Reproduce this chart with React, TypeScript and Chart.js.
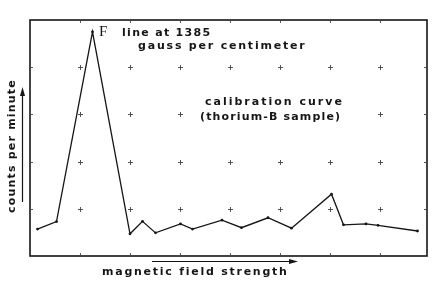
import React, { useEffect, useRef } from "react";
import { Chart, registerables } from "chart.js";

Chart.register(...registerables);

// magnetic field strength (grid units) and counts per minute (grid units)
const fieldStrength = [0.15, 0.53, 1.25, 2.0, 2.25, 2.51, 3.01, 3.25, 3.84, 4.23, 4.76, 5.23, 6.03, 6.27, 6.72, 6.96, 7.75];
const countsPerMinute = [0.57, 0.73, 4.75, 0.47, 0.735, 0.49, 0.68, 0.57, 0.76, 0.6, 0.81, 0.59, 1.31, 0.66, 0.68, 0.65, 0.53];
const xGridTicks = [1, 2, 3, 4, 5, 6, 7];
const yGridTicks = [1, 2, 3, 4];

const xTitle = "magnetic field strength";
const yTitle = "counts per minute";
const peakMark = "F";
const peakNote = ["line at 1385", "gauss per centimeter"];
const curveNote = ["calibration curve", "(thorium-B sample)"];

const INK = "#161616";
const HAND = "'DejaVu Sans', sans-serif";

function spaced(ctx: any, text: string, x: number, y: number, spacing: number) {
  ctx.letterSpacing = spacing + "px";
  ctx.fillText(text, x, y);
}

const sketchPlugin = {
  id: "sketch",
  beforeDatasetsDraw(chart: any) {
    const { ctx, chartArea: a, scales } = chart;
    const xs = scales.x;
    const ys = scales.y;
    ctx.save();
    // frame
    ctx.strokeStyle = INK;
    ctx.lineWidth = 1.6;
    ctx.strokeRect(a.left, a.top, a.right - a.left, a.bottom - a.top);
    // inward ticks and crosses
    ctx.lineWidth = 0.9;
    ctx.strokeStyle = "#444";
    for (const xv of xGridTicks) {
      const px = Math.round(xs.getPixelForValue(xv)) + 0.5;
      ctx.beginPath();
      ctx.moveTo(px, a.bottom);
      ctx.lineTo(px, a.bottom - 3);
      ctx.moveTo(px, a.top);
      ctx.lineTo(px, a.top + 3);
      ctx.stroke();
      for (const yv of yGridTicks) {
        const py = Math.round(ys.getPixelForValue(yv)) + 0.5;
        ctx.beginPath();
        ctx.moveTo(px - 2.5, py);
        ctx.lineTo(px + 2.5, py);
        ctx.moveTo(px, py - 2.5);
        ctx.lineTo(px, py + 2.5);
        ctx.stroke();
      }
    }
    for (const yv of yGridTicks) {
      const py = Math.round(ys.getPixelForValue(yv)) + 0.5;
      ctx.beginPath();
      ctx.moveTo(a.left, py);
      ctx.lineTo(a.left + 3, py);
      ctx.moveTo(a.right, py);
      ctx.lineTo(a.right - 3, py);
      ctx.stroke();
    }
    ctx.restore();
  },
  afterDraw(chart: any) {
    const { ctx } = chart;
    ctx.save();
    ctx.fillStyle = INK;
    ctx.strokeStyle = INK;
    ctx.textBaseline = "middle";
    // peak label
    ctx.font = "15px 'Liberation Serif', serif";
    ctx.textAlign = "left";
    ctx.letterSpacing = "0px";
    ctx.fillText(peakMark, 99, 32);
    ctx.font = "bold 11px " + HAND;
    spaced(ctx, peakNote[0], 122, 33, 1.3);
    spaced(ctx, peakNote[1], 138, 46, 1.8);
    // curve note (paper behind lettering)
    ctx.fillStyle = "#fff";
    ctx.fillRect(198, 94, 148, 30);
    ctx.fillStyle = INK;
    spaced(ctx, curveNote[0], 205, 102, 2.0);
    spaced(ctx, curveNote[1], 200, 117, 1.15);
    // x title
    spaced(ctx, xTitle, 102, 272, 1.75);
    // y title
    ctx.save();
    ctx.translate(12, 146);
    ctx.rotate(-Math.PI / 2);
    ctx.textAlign = "center";
    spaced(ctx, yTitle, 0, 0, 1.2);
    ctx.restore();
    ctx.letterSpacing = "0px";
    // arrows
    ctx.lineWidth = 1.2;
    ctx.beginPath();
    ctx.moveTo(152, 261.5);
    ctx.lineTo(292, 261.5);
    ctx.stroke();
    ctx.beginPath();
    ctx.moveTo(298, 261.5);
    ctx.lineTo(289, 259);
    ctx.lineTo(289, 264);
    ctx.closePath();
    ctx.fill();
    ctx.beginPath();
    ctx.moveTo(22.5, 202);
    ctx.lineTo(22.5, 94);
    ctx.stroke();
    ctx.beginPath();
    ctx.moveTo(22.5, 87);
    ctx.lineTo(20, 96);
    ctx.lineTo(25, 96);
    ctx.closePath();
    ctx.fill();
    ctx.restore();
  },
};

export default function App() {
  const ref = useRef<HTMLCanvasElement | null>(null);
  useEffect(() => {
    if (!ref.current) return;
    const chart = new Chart(ref.current, {
      type: "line",
      data: {
        datasets: [
          {
            data: fieldStrength.map((x, i) => ({ x, y: countsPerMinute[i] })),
            borderColor: INK,
            borderWidth: 1.3,
            pointRadius: 1.4,
            pointBackgroundColor: INK,
            pointBorderWidth: 0,
            tension: 0,
            fill: false,
          },
        ],
      },
      options: {
        responsive: false,
        animation: false,
        layout: { padding: { left: 30, right: 11, top: 20, bottom: 44 } },
        plugins: { legend: { display: false }, tooltip: { enabled: false } },
        scales: {
          x: { type: "linear", min: 0, max: 7.94, display: false },
          y: { type: "linear", min: 0, max: 5, display: false },
        },
      },
      plugins: [sketchPlugin],
    });
    return () => chart.destroy();
  }, []);
  return (
    <div style={{ position: "fixed", left: 0, top: 0, width: 438, height: 300, background: "#fff" }}>
      <canvas ref={ref} width={438} height={300} style={{ width: 438, height: 300, display: "block" }} />
    </div>
  );
}
